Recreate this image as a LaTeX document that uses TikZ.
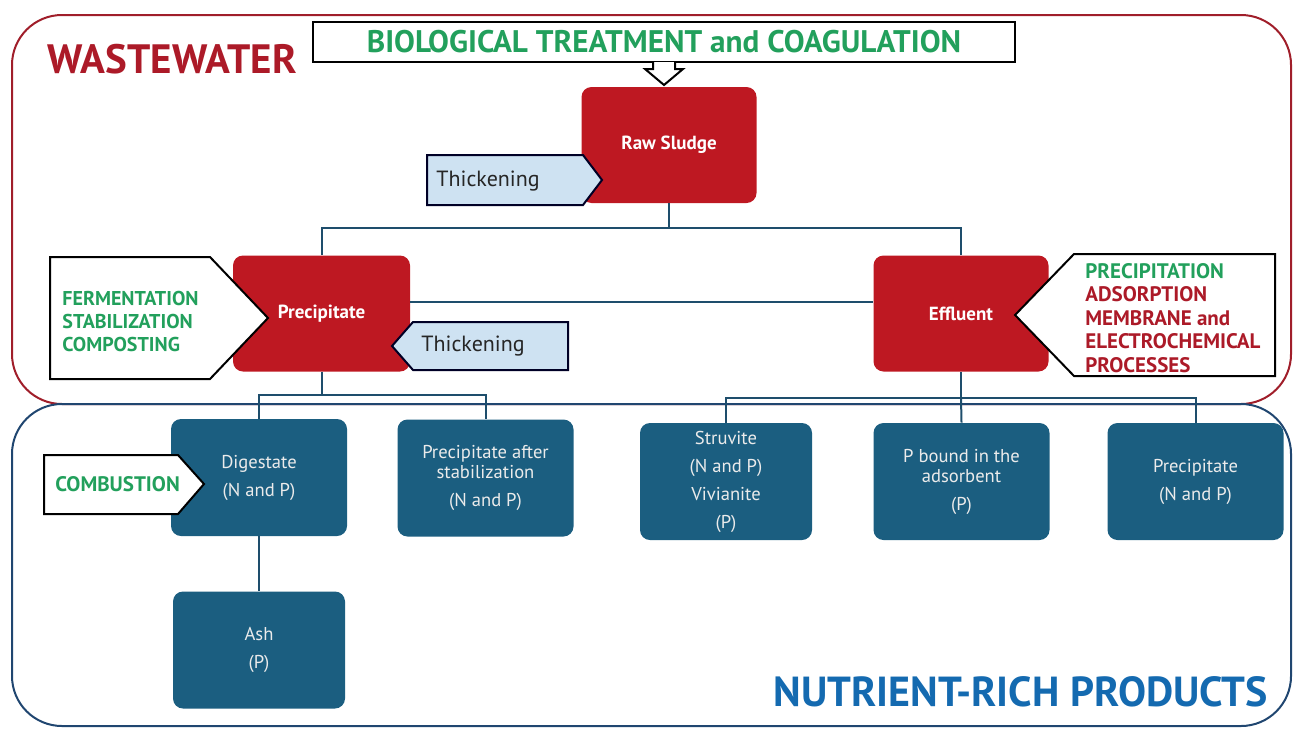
\documentclass[tikz,border=0pt]{standalone}
\usepackage{fontspec}
\setmainfont{PT Sans}
\usepackage{tikz}
\usetikzlibrary{positioning}

\definecolor{boxred}{RGB}{190,24,34}
\definecolor{framered}{RGB}{160,30,42}
\definecolor{textred}{RGB}{172,26,40}
\definecolor{procgreen}{RGB}{34,160,92}
\definecolor{thickblue}{RGB}{206,226,242}
\definecolor{boxblue}{RGB}{27,94,128}
\definecolor{lineblue}{RGB}{30,78,108}
\definecolor{frameblue}{RGB}{32,70,112}
\definecolor{prodblue}{RGB}{20,106,176}

\tikzset{
  redbox/.style={fill=boxred, rounded corners=5pt, minimum width=87.5pt, minimum height=58pt,
    text=white, font=\bfseries\fontsize{9.5}{11}\selectfont},
  bluebox/.style={fill=boxblue, rounded corners=5pt, minimum width=88pt, minimum height=58.5pt,
    text=white!92!black, align=center, font=\fontsize{9.3}{10}\selectfont},
  conn/.style={draw=lineblue, line width=1pt},
  pointer/.style={draw=black, line width=1pt, fill=white},
  thickarrow/.style={draw=black!85!blue, line width=1pt, fill=thickblue},
  steplabel/.style={font=\bfseries\fontsize{10}{11.5}\selectfont, align=left, anchor=west, inner sep=0pt},
}

\begin{document}
\begin{tikzpicture}[x=0.5pt, y=-0.5pt]
    \useasboundingbox (0,0) rectangle (1293,728);

    % Frames
    \draw[framered, line width=1pt, rounded corners=25pt] (12,15) rectangle (1291,404);
    \draw[frameblue, line width=1pt, rounded corners=25pt] (12,404) rectangle (1291,726);
    \node[font=\bfseries\fontsize{20.5}{24}\selectfont, text=textred, inner sep=0pt] (ww) at (172,59) {WASTEWATER};
    \node[font=\bfseries\fontsize{21}{24}\selectfont, text=prodblue, anchor=east, inner sep=0pt] (nrp) at (1268,692) {NUTRIENT-RICH PRODUCTS};

    % Header and down arrow
    \node[draw=black, line width=1pt, fill=white, minimum width=351pt, minimum height=20pt,
      font=\bfseries\fontsize{15.6}{18}\selectfont, text=procgreen] (bio) at (664,42)
      {BIOLOGICAL TREATMENT and COAGULATION};
    \draw[pointer] (653,62) -- (653,69) -- (645,69) -- (664,85) -- (683,69) -- (675,69) -- (675,62);

    % Sludge line
    \node[redbox] (raw) at (669,145) {Raw Sludge};
    \node[redbox, minimum width=88.5pt] (prec) at (321.5,313.5) {Precipitate};
    \node[redbox] (eff) at (961,313.5) {Effluent};

    \draw[conn] (raw.south) -- ++(0,25) coordinate (j1);
    \draw[conn] (prec.north) |- (j1) -| (eff.north);
    \draw[conn] (prec.east |- 0,302) -- (eff.west |- 0,302);

    % Treatment pointers
    \draw[thickarrow] (427,155) -- (583,155) -- (602,180) -- (583,205) -- (427,205) -- cycle;
    \node[anchor=west, inner sep=0pt, font=\fontsize{11}{13}\selectfont, text=black!85] (thk1) at (436,181) {Thickening};

    \draw[pointer] (50,257) -- (210,257) -- (268,318) -- (210,379) -- (50,379) -- cycle;
    \node[steplabel, text=procgreen] (ferm) at (62,321) {FERMENTATION\\STABILIZATION\\COMPOSTING};

    \draw[thickarrow] (392,346) -- (413,322) -- (568,322) -- (568,370) -- (413,370) -- cycle;
    \node[anchor=west, inner sep=0pt, font=\fontsize{11}{13}\selectfont, text=black!85] (thk2) at (421,346) {Thickening};

    \draw[pointer] (1015,315) -- (1074,254) -- (1275,254) -- (1275,376) -- (1074,376) -- cycle;
    \node[steplabel, font=\bfseries\fontsize{10.5}{11.75}\selectfont, text=textred] (proc) at (1085,318)
      {\textcolor{procgreen}{PRECIPITATION}\\ADSORPTION\\MEMBRANE and\\ELECTROCHEMICAL\\PROCESSES};

    % Products
    \node[bluebox] (dig) at (259,477.5) {Digestate\\[4pt](N and P)};
    \node[bluebox] (pas) at (485.5,478) {Precipitate after\\stabilization\\[4pt](N and P)};
    \node[bluebox, minimum width=86pt] (ash) at (259,650) {Ash\\[4pt](P)};
    \node[bluebox, minimum width=86pt] (stru) at (726,481.5) {Struvite\\[4pt](N and P)\\[4pt]Vivianite\\[4pt](P)};
    \node[bluebox] (pbnd) at (961.5,481.5) {P bound in the\\adsorbent\\[4pt](P)};
    \node[bluebox] (pnp) at (1195.5,481.5) {Precipitate\\[4pt](N and P)};

    \draw[conn] (prec.south) -- ++(0,23) coordinate (j2);
    \draw[conn] (dig.north) |- (j2) -| (pas.north);
    \draw[conn] (eff.south) -- ++(0,26) coordinate (j3);
    \draw[conn] (stru.north) |- (j3) -| (pnp.north);
    \draw[conn] (j3) -- (pbnd.north);
    \draw[conn] (dig.south) -- (ash.north);

    \draw[pointer] (44,455) -- (178,455) -- (204,484) -- (178,514) -- (44,514) -- cycle;
    \node[steplabel, font=\bfseries\fontsize{10.5}{12}\selectfont, text=procgreen] (comb) at (55,484) {COMBUSTION};
\end{tikzpicture}
\end{document}
